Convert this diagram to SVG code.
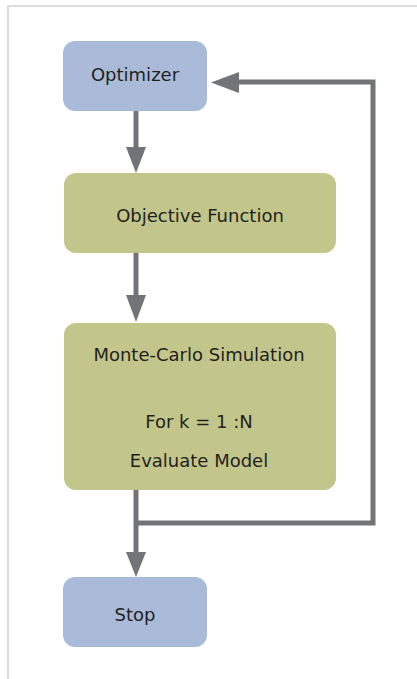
<svg xmlns="http://www.w3.org/2000/svg" width="417" height="679" viewBox="0 0 417 679">
<style>
.blue{fill:#aabbd9}
.green{fill:#c2c68a}
.lbl{font-family:"DejaVu Sans",sans-serif;font-size:18px;fill:#231f20;text-anchor:middle}
.ln{fill:none;stroke:#737478;stroke-width:5}
.ah{fill:#737478}
</style>
<rect x="8" y="6" width="430" height="700" fill="#fff" stroke="#dcdcdc" stroke-width="2"/>
<g id="connectors">
<path class="ln" d="M136,111 V150"/>
<polygon class="ah" points="126,147 146,147 136,173"/>
<path class="ln" d="M136,253 V297"/>
<polygon class="ah" points="126,295 146,295 136,322"/>
<path class="ln" d="M136,490 V555"/>
<polygon class="ah" points="126,552 146,552 136,577"/>
<path class="ln" d="M136,523 H373 V82 H236"/>
<polygon class="ah" points="239,72 239,93 211,82.5"/>
</g>
<g id="optimizer">
<rect class="blue" x="63" y="41" width="144" height="70" rx="12"/>
<text class="lbl" x="135" y="81">Optimizer</text>
</g>
<g id="objective">
<rect class="green" x="64" y="173" width="272" height="80" rx="12"/>
<text class="lbl" x="200" y="222">Objective Function</text>
</g>
<g id="montecarlo">
<rect class="green" x="64" y="323" width="272" height="167" rx="12"/>
<text class="lbl" x="199" y="361">Monte-Carlo Simulation</text>
<text class="lbl" x="199" y="428">For k = 1 :N</text>
<text class="lbl" x="199" y="467">Evaluate Model</text>
</g>
<g id="stop">
<rect class="blue" x="63" y="577" width="144" height="70" rx="12"/>
<text class="lbl" x="135" y="621">Stop</text>
</g>
</svg>
